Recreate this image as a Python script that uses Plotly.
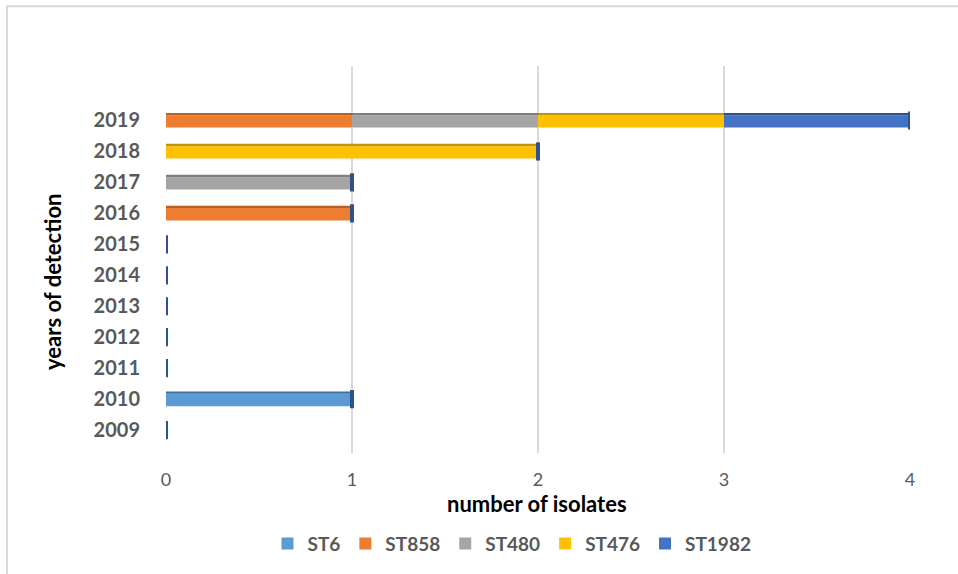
import plotly.graph_objects as go

years = ["2009", "2010", "2011", "2012", "2013", "2014", "2015", "2016", "2017", "2018", "2019"]
series_names = ["ST6", "ST858", "ST480", "ST476", "ST1982"]
st6 =    [0, 1, 0, 0, 0, 0, 0, 0, 0, 0, 0]
st858 =  [0, 0, 0, 0, 0, 0, 0, 1, 0, 0, 1]
st480 =  [0, 0, 0, 0, 0, 0, 0, 0, 1, 0, 1]
st476 =  [0, 0, 0, 0, 0, 0, 0, 0, 0, 2, 1]
st1982 = [0, 0, 0, 0, 0, 0, 0, 0, 0, 0, 1]
x_ticks = [0, 1, 2, 3, 4]

colors = ["#5B9BD5", "#ED7D31", "#A5A5A5", "#FFC000", "#4472C4"]
edge_colors = ["#41719C", "#B85F22", "#7F7F7F", "#C49400", "#2F528F"]
values = [st6, st858, st480, st476, st1982]

W, H = 958, 574
L, R, T, B = 166, 48, 66, 119
pw, ph = W - L - R, H - T - B

def px(x):
    return (x - L) / pw

def py(y):
    return (H - B - y) / ph

fig = go.Figure()
base = [0] * len(years)
for name, vals, c, ec in zip(series_names, values, colors, edge_colors):
    fig.add_trace(go.Bar(
        y=years, x=vals, base=base, name=name, orientation="h",
        width=0.40, offset=-0.23,
        marker=dict(color=c, line=dict(width=0)),
    ))
    fig.add_trace(go.Bar(
        y=years, x=vals, base=base, orientation="h", showlegend=False, hoverinfo="skip",
        width=0.075, offset=0.17,
        marker=dict(color=ec, line=dict(width=0)),
    ))
    base = [b + v for b, v in zip(base, vals)]

totals = base
fig.add_trace(go.Scatter(
    x=totals, y=years, mode="markers", showlegend=False, hoverinfo="skip",
    marker=dict(symbol="line-ns", size=13, line=dict(width=4, color="#2F528F")),
))

fig.update_layout(
    width=W, height=H,
    margin=dict(l=L, r=R, t=T, b=B),
    barmode="overlay",
    plot_bgcolor="white", paper_bgcolor="white",
    font=dict(family="Lato", color="#595959"),
    xaxis=dict(range=[0, 4], tickvals=x_ticks, showgrid=True, gridcolor="#D9D9D9",
               gridwidth=2, zeroline=False, showline=False, ticks="",
               tickfont=dict(size=18, color="#595959", family="Lato"),
               ticklabelstandoff=14, fixedrange=True),
    yaxis=dict(type="category", categoryorder="array", categoryarray=years,
               range=[-0.74, 11.76], showgrid=False, zeroline=False, showline=False,
               ticks="", tickfont=dict(size=20, color="#595959", family="Lato", weight="bold"),
               ticklabelstandoff=25),
    legend=dict(orientation="h", x=px(512), y=py(546), xanchor="center", yanchor="middle",
                font=dict(size=19, color="#595959", family="Lato", weight="bold"),
                traceorder="normal", itemwidth=30),
    showlegend=True,
)

fig.add_annotation(text="<b>years of detection</b>", textangle=-90, xref="paper", yref="paper",
                   x=px(53), y=py(283), xanchor="center", yanchor="middle", showarrow=False,
                   font=dict(size=22, color="#000000", family="Lato"))
fig.add_annotation(text="<b>number of isolates</b>", xref="paper", yref="paper",
                   x=px(537), y=py(506), xanchor="center", yanchor="middle", showarrow=False,
                   font=dict(size=22, color="#000000", family="Lato"))

fig.add_shape(type="rect", xref="paper", yref="paper",
              x0=px(7), x1=px(1000), y0=py(620), y1=py(6),
              line=dict(color="#D9D9D9", width=2), fillcolor="rgba(0,0,0,0)", layer="below")

fig.write_html("out.html")
